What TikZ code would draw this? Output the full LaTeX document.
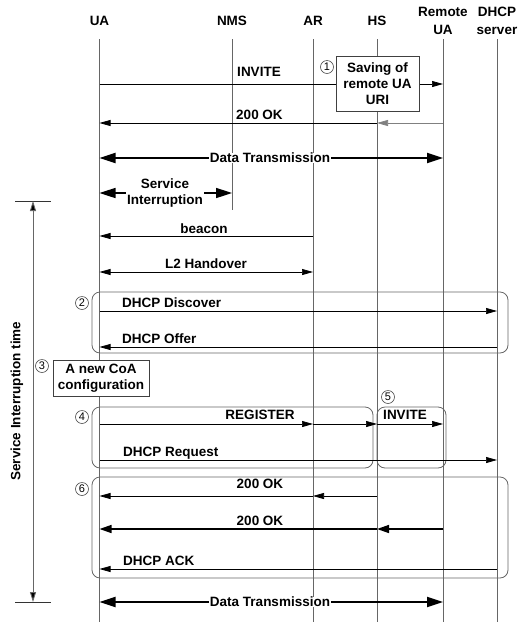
\documentclass[tikz,border=0pt]{standalone}
\usepackage{fontspec}
\setmainfont{Liberation Sans}
\usetikzlibrary{arrows.meta}

\newcommand{\msgfont}{\fontsize{13.5}{16}\selectfont\bfseries}

\tikzset{
  lifeline/.style={draw=black!60, line width=0.9pt},
  msg/.style={draw=black, line width=0.7pt, -{Triangle[length=11pt,width=6pt]}},
  twoway/.style={draw=black, line width=0.7pt, {Triangle[length=11pt,width=6pt]}-{Triangle[length=11pt,width=6pt]}},
  heavymsg/.style={draw=black, line width=1.4pt, -{Triangle[length=12pt,width=8pt]}},
  datamsg/.style={draw=black, line width=2pt, {Triangle[length=16pt,width=10pt]}-{Triangle[length=16pt,width=10pt]}},
  lbl/.style={font=\msgfont, inner sep=1pt},
  head/.style={font=\fontsize{13.5}{18}\selectfont\bfseries, align=center, inner sep=1pt},
  grp/.style={draw=black!60, line width=0.8pt, rounded corners=8pt},
  notebox/.style={draw=black!75, fill=white, line width=0.8pt, align=center, font=\msgfont, inner sep=2pt},
  stepnum/.style={circle, draw=black!70, line width=0.6pt, inner sep=0pt, minimum size=13pt, font=\fontsize{11}{11}\selectfont}
}

\begin{document}
\begin{tikzpicture}[x=1pt,y=-1pt]
\useasboundingbox (0,0) rectangle (527,622);

% participants
\node[head] (ua) at (99.5,21) {UA};
\node[head] (nms) at (232,21) {NMS};
\node[head] (ar) at (313,21) {AR};
\node[head] (hs) at (377,21) {HS};
\node[head] (rua) at (443,21) {Remote\\UA};
\node[head] (dhcp) at (497,21) {DHCP\\server};

% lifelines
\coordinate (top) at (0,39);
\coordinate (bot) at (0,622);
\coordinate (nmsend) at (0,210);
\foreach \p in {ua,ar,hs,rua,dhcp}
  \draw[lifeline] (\p |- top) -- (\p |- bot);
\draw[lifeline] (nms |- top) -- (nms |- nmsend);

% message rows
\coordinate (r1) at (0,84);
\coordinate (r2) at (0,123);
\coordinate (r3) at (0,158);
\coordinate (r4) at (0,193);
\coordinate (r5) at (0,236);
\coordinate (r6) at (0,272);
\coordinate (r7) at (0,311);
\coordinate (r8) at (0,347);
\coordinate (r9) at (0,424);
\coordinate (r10) at (0,460);
\coordinate (r11) at (0,496);
\coordinate (r12) at (0,529);
\coordinate (r13) at (0,569);
\coordinate (r14) at (0,602);

% service interruption time
\coordinate (sitop) at (33,201);
\coordinate (sibot) at (33,602);
\draw[black!80, line width=0.8pt] ([xshift=-18pt]sitop) -- ([xshift=18pt]sitop);
\draw[black!80, line width=0.8pt] ([xshift=-18pt]sibot) -- ([xshift=18pt]sibot);
\draw[draw=black!60, line width=0.9pt, {Triangle[length=10pt,width=6pt,fill=black]}-{Triangle[length=10pt,width=6pt,fill=black]}] (sitop) -- (sibot);
\node[lbl, rotate=90] (sitl) at (17,401) {Service Interruption time};

% before handover
\draw[msg] (ua |- r1) -- (rua |- r1);
\node[lbl, anchor=base] (inv1) at (259,76) {INVITE};
\node[notebox, minimum width=83pt, minimum height=55pt] (save) at (377.5,83.5) {Saving of\\remote UA\\URI};
\node[stepnum] (s1) at (327,67) {1};

\draw[msg, draw=black!50] (rua |- r2) -- (hs |- r2);
\draw[msg] (hs |- r2) -- (ua |- r2);
\node[lbl, anchor=base] (ok1) at (259.5,119) {200 OK};

\draw[datamsg] (ua |- r3) -- (rua |- r3);
\node[lbl, fill=white, inner sep=0.5pt] (data1) at (270,158) {Data Transmission};

\draw[datamsg, line width=1.6pt] (ua |- r4) -- (nms |- r4);
\node[lbl, fill=white, align=center] (sint) at (165,193) {Service\\Interruption};

\draw[msg] (ar |- r5) -- (ua |- r5);
\node[lbl, anchor=base] (beacon) at (204,233) {beacon};

\draw[twoway] (ua |- r6) -- (ar |- r6);
\node[lbl, anchor=base] (l2) at (206,268) {L2 Handover};

% step 2
\draw[grp] (92,292) rectangle (508,353);
\node[stepnum] (s2) at (82,303) {2};
\draw[msg] (ua |- r7) -- (dhcp |- r7);
\node[lbl, anchor=base west] (disc) at (121,307) {DHCP Discover};
\draw[msg] (dhcp |- r8) -- (ua |- r8);
\node[lbl, anchor=base west] (offer) at (121,343) {DHCP Offer};

% step 3
\node[notebox, minimum width=96pt, minimum height=36pt] (coa) at (101,378) {A new CoA\\configuration};
\node[stepnum] (s3) at (42,366) {3};

% step 4 and 5
\draw[grp] (92,407) rectangle (373,468);
\node[stepnum] (s4) at (82,417) {4};
\draw[grp] (377,407) rectangle (446,468);
\node[stepnum] (s5) at (388,397) {5};
\draw[msg] (ua |- r9) -- (ar |- r9);
\draw[msg] (ar |- r9) -- (hs |- r9);
\node[lbl, anchor=base] (reg) at (260,419) {REGISTER};
\draw[msg] (hs |- r9) -- (rua |- r9);
\node[lbl, anchor=base] (inv2) at (405,419) {INVITE};
\draw[msg] (ua |- r10) -- (dhcp |- r10);
\node[lbl, anchor=base west] (req) at (122,456) {DHCP Request};

% step 6
\draw[grp] (92,477) rectangle (508,578);
\node[stepnum] (s6) at (82,489) {6};
\draw[msg] (hs |- r11) -- (ar |- r11);
\draw[msg] (ar |- r11) -- (ua |- r11);
\node[lbl, anchor=base] (ok2) at (260,488) {200 OK};
\draw[heavymsg] (rua |- r12) -- (hs |- r12);
\draw[heavymsg] (hs |- r12) -- (ua |- r12);
\node[lbl, anchor=base] (ok3) at (260,525) {200 OK};
\draw[msg] (dhcp |- r13) -- (ua |- r13);
\node[lbl, anchor=base west] (ack) at (122,565) {DHCP ACK};

% after handover
\draw[datamsg] (ua |- r14) -- (rua |- r14);
\node[lbl, fill=white, inner sep=0.5pt] (data2) at (270,602) {Data Transmission};
\end{tikzpicture}
\end{document}
